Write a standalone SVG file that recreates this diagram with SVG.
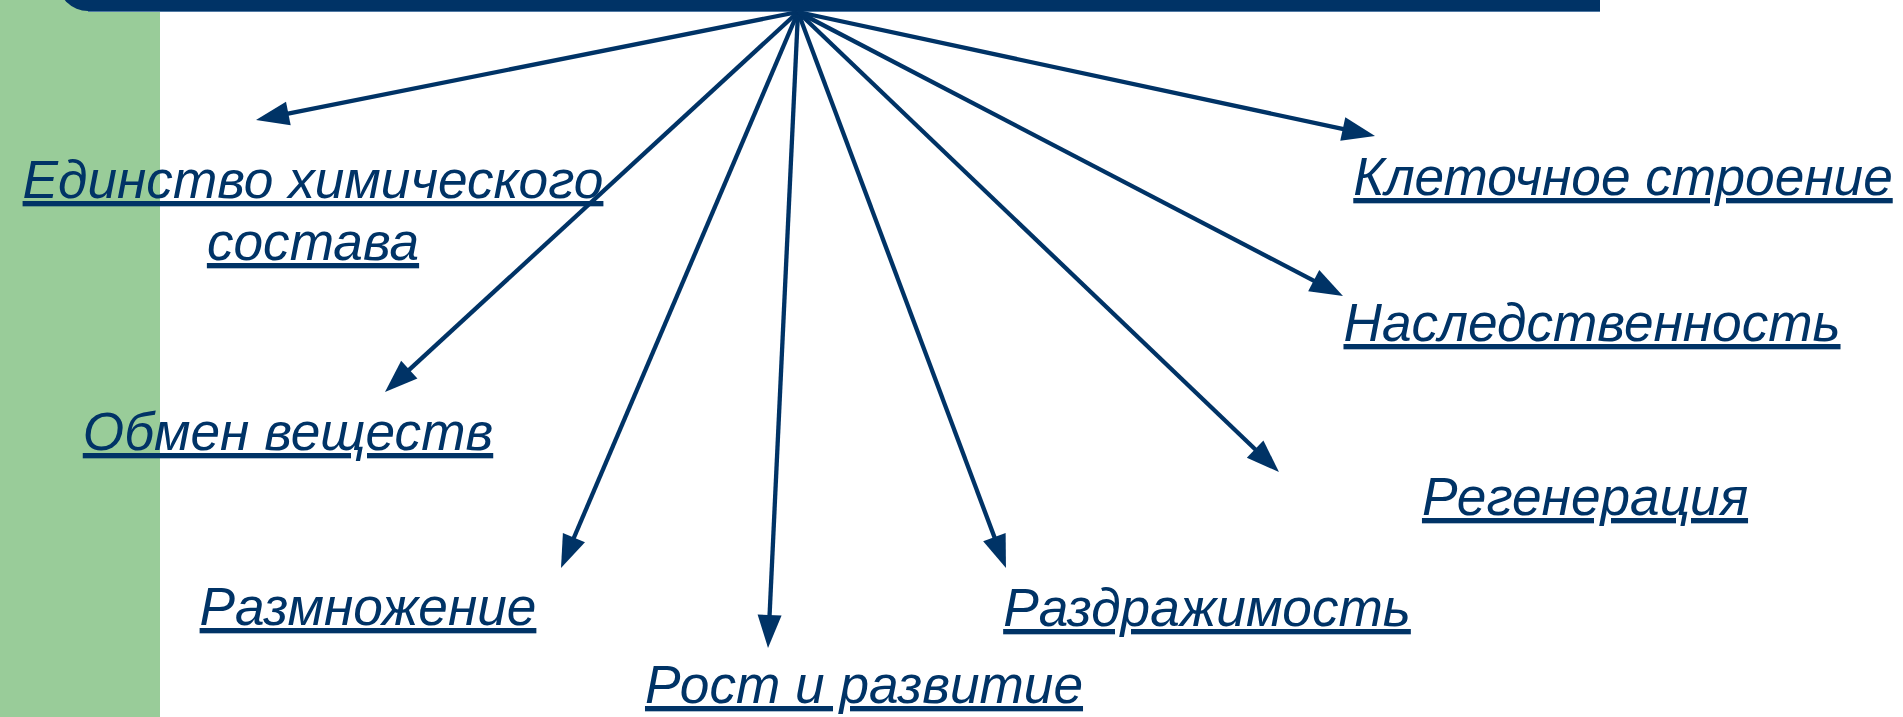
<svg xmlns="http://www.w3.org/2000/svg" width="1903" height="717" viewBox="0 0 1903 717">
<style>
.lbl{font-family:"Liberation Sans",Arial,sans-serif;font-style:italic;font-size:53.2px;fill:#003366;text-decoration:underline;text-anchor:middle}
.con{stroke:#003366;stroke-width:4.3;fill:none;marker-end:url(#ah)}
</style>
<defs>
<marker id="ah" markerUnits="userSpaceOnUse" markerWidth="34" markerHeight="24" refX="8" refY="12" orient="auto" overflow="visible">
<path d="M0,0 L33,12 L0,24 z" fill="#003366"/>
</marker>
</defs>
<rect width="1903" height="717" fill="#ffffff"/>
<rect id="side" x="0" y="0" width="160" height="717" fill="#99CC99"/>
<g id="topbar">
<rect x="58" y="-60" width="1542" height="71" rx="30" fill="#003366"/>
<rect x="1500" y="-60" width="100" height="71" fill="#003366"/>
<rect x="88" y="11" width="1512" height="1" fill="#4f78a3"/>
</g>
<g id="connectors">
<line class="con" x1="798" y1="12" x2="280.5" y2="115.1"/>
<line class="con" x1="798" y1="12" x2="403.4" y2="375.1"/>
<line class="con" x1="798" y1="12" x2="570.8" y2="545.0"/>
<line class="con" x1="798" y1="12" x2="769.2" y2="623.0"/>
<line class="con" x1="798" y1="12" x2="997.2" y2="544.6"/>
<line class="con" x1="798" y1="12" x2="1260.9" y2="454.7"/>
<line class="con" x1="798" y1="12" x2="1320.8" y2="284.4"/>
<line class="con" x1="798" y1="12" x2="1350.6" y2="130.7"/>
</g>
<g id="n-edinstvo"><text class="lbl" x="313" y="198">Единство химического</text><text class="lbl" x="313" y="260">состава</text></g>
<g id="n-obmen"><text class="lbl" x="288" y="450">Обмен веществ</text></g>
<g id="n-razmnozhenie"><text class="lbl" x="368" y="625">Размножение</text></g>
<g id="n-rost"><text class="lbl" x="864" y="703">Рост и развитие</text></g>
<g id="n-razdrazhimost"><text class="lbl" x="1207" y="626">Раздражимость</text></g>
<g id="n-regeneratsiya"><text class="lbl" x="1585" y="515">Регенерация</text></g>
<g id="n-nasledstvennost"><text class="lbl" x="1592" y="341">Наследственность</text></g>
<g id="n-kletochnoe"><text class="lbl" x="1623" y="195">Клеточное строение</text></g>
</svg>
